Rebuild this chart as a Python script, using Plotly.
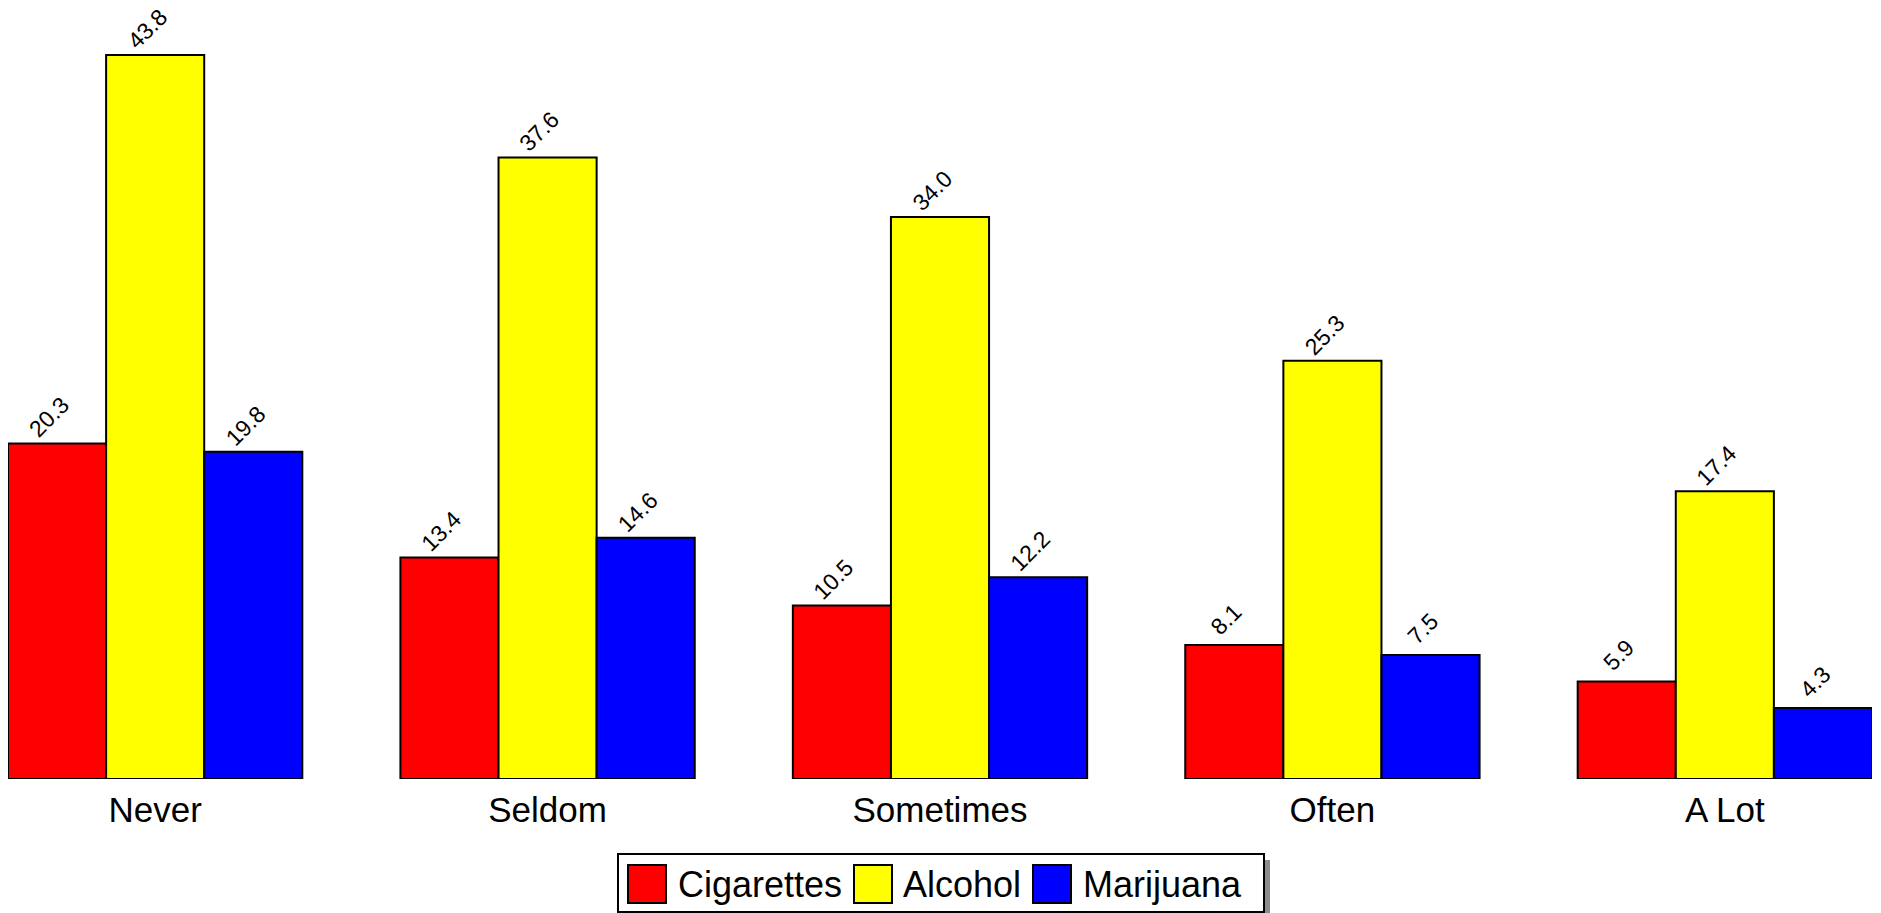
import plotly.graph_objects as go

# data
categories = ["Never", "Seldom", "Sometimes", "Often", "A Lot"]
series_names = ["Cigarettes", "Alcohol", "Marijuana"]
cigarettes = [20.3, 13.4, 10.5, 8.1, 5.9]
alcohol = [43.8, 37.6, 34.0, 25.3, 17.4]
marijuana = [19.8, 14.6, 12.2, 7.5, 4.3]
colors = ["#ff0000", "#ffff00", "#0000ff"]

W, H = 1881, 913
L, R, T, B = 0, 17, 2, 142
pw, ph = W - L - R, H - T - B
OFF = 8  # page body margin
BARGAP = 0.25
XR = [-0.375, 4.375]
bar_px = (1 - BARGAP) / 3 * pw / (XR[1] - XR[0])

# page pixel -> paper coords
def px(x):
    return (x - OFF - L) / pw

def py(y):
    return (H - B - (y - OFF)) / ph

FONT = "Arial, Liberation Sans, sans-serif"

fig = go.Figure()
annotations = []
for i, (name, vals, col) in enumerate(zip(series_names, [cigarettes, alcohol, marijuana], colors)):
    fig.add_trace(go.Bar(
        x=categories, y=vals, name=name,
        marker=dict(color=col, line=dict(color="black", width=2)),
        cliponaxis=False, showlegend=False,
    ))
    # rotated value labels above each bar
    for c, v in zip(categories, vals):
        annotations.append(dict(x=c, y=v, xref="x", yref="y", text="%.1f" % v,
                                showarrow=False, textangle=-45,
                                xanchor="center", yanchor="middle",
                                xshift=(i - 1) * bar_px - 8, yshift=26,
                                font=dict(size=23, color="black", family=FONT)))

# hand-drawn legend box with drop shadow
shapes = [
    dict(type="rect", xref="paper", yref="paper", x0=px(624), x1=px(1270), y0=py(920), y1=py(860),
         fillcolor="#8c8c8c", line=dict(width=0), layer="above"),
    dict(type="rect", xref="paper", yref="paper", x0=px(618), x1=px(1264), y0=py(912), y1=py(854),
         fillcolor="white", line=dict(color="black", width=2), layer="above"),
]
sq_x = [628, 854, 1033]
tx_x = [676, 901, 1081]
for i, name in enumerate(series_names):
    shapes.append(dict(type="rect", xref="paper", yref="paper", x0=px(sq_x[i]), x1=px(sq_x[i] + 38),
                       y0=py(903), y1=py(865), fillcolor=colors[i],
                       line=dict(color="black", width=2), layer="above"))
    annotations.append(dict(xref="paper", yref="paper", x=px(tx_x[i]), y=py(884), text=name,
                            showarrow=False, xanchor="left", yanchor="middle",
                            font=dict(size=36, color="black", family=FONT)))

fig.update_layout(
    width=W, height=H,
    margin=dict(l=L, r=R, t=T, b=B),
    barmode="group", bargap=BARGAP, bargroupgap=0,
    plot_bgcolor="white", paper_bgcolor="white",
    font=dict(family=FONT, color="black"),
    xaxis=dict(range=XR, showgrid=False, showline=False, zeroline=False,
               ticks="", ticklabelstandoff=7,
               tickfont=dict(size=35, color="black", family=FONT)),
    yaxis=dict(range=[0, 46.52], showgrid=False, showline=False, zeroline=False,
               showticklabels=False, ticks=""),
    shapes=shapes, annotations=annotations,
)

fig.write_html("out.html")
